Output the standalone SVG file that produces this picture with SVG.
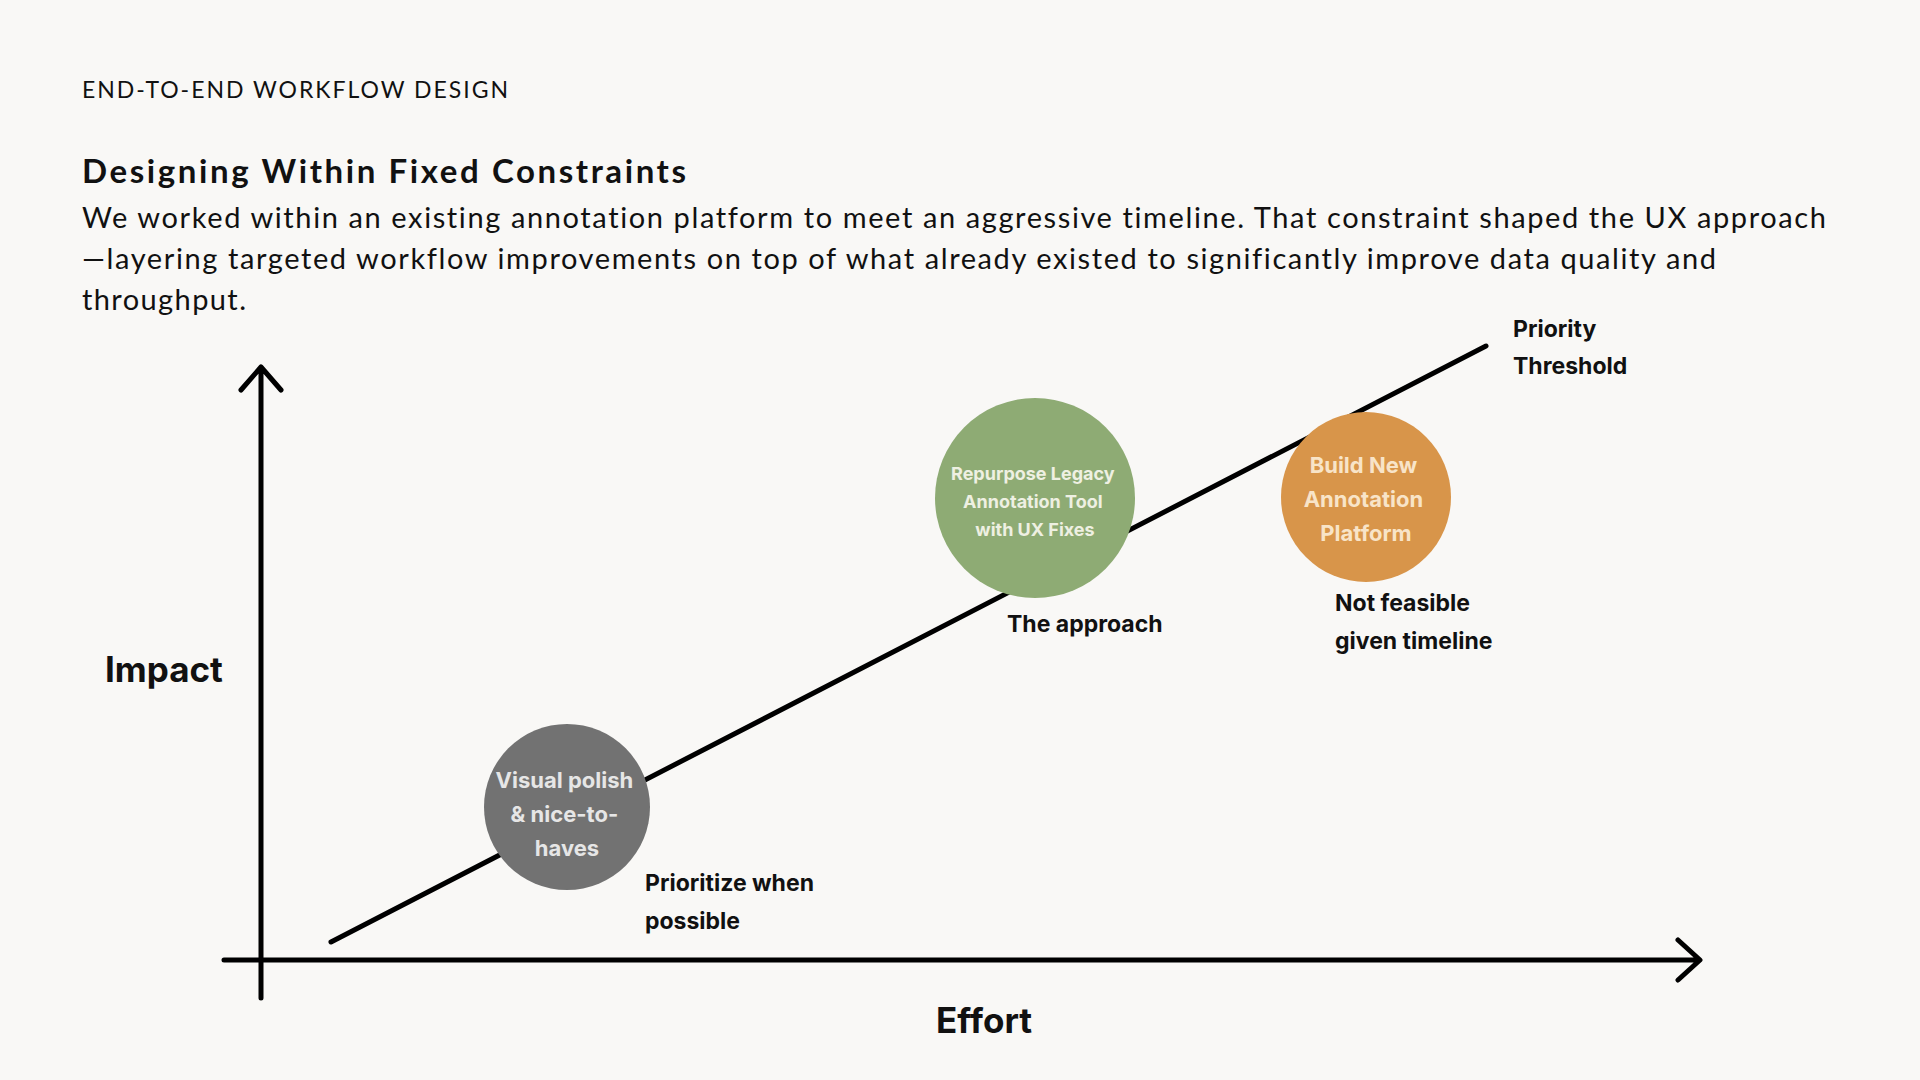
<svg xmlns="http://www.w3.org/2000/svg" width="1920" height="1080" viewBox="0 0 1920 1080">
  <style>
    .hdr { font-family: Lato, "Open Sans", sans-serif; font-size: 23px; fill: #111; font-variant-ligatures: none; }
    .title { font-family: Lato, "Open Sans", sans-serif; font-size: 33px; font-weight: 700; fill: #111; font-variant-ligatures: none; }
    .body { font-family: Lato, "Open Sans", sans-serif; font-size: 29px; fill: #111; font-variant-ligatures: none; }
    .lbl { font-family: Inter, "Noto Sans", sans-serif; font-size: 23px; font-weight: 700; fill: #111; }
    .axis { font-family: Inter, "Noto Sans", sans-serif; font-size: 35px; font-weight: 700; fill: #111; }
    .ctext { font-family: Inter, "Noto Sans", sans-serif; font-weight: 700; text-anchor: middle; }
    .stroke { stroke: #000; stroke-width: 5; stroke-linecap: round; stroke-linejoin: round; fill: none; }
  </style>
  <rect width="1920" height="1080" fill="#f9f8f6"/>

  <g id="header">
    <text class="hdr" x="82" y="98" textLength="426" lengthAdjust="spacing">END-TO-END WORKFLOW DESIGN</text>
    <text class="title" x="82" y="183" textLength="604" lengthAdjust="spacing">Designing Within Fixed Constraints</text>
    <text class="body" x="82" y="228" textLength="1744" lengthAdjust="spacing">We worked within an existing annotation platform to meet an aggressive timeline. That constraint shaped the UX approach</text>
    <text class="body" x="82" y="269" textLength="1634" lengthAdjust="spacing">—layering targeted workflow improvements on top of what already existed to significantly improve data quality and</text>
    <text class="body" x="82" y="310" textLength="164" lengthAdjust="spacing">throughput.</text>
  </g>

  <g id="connectors">
    <path id="y-axis" class="stroke" d="M261 998 V367 M241 390 L261 367 L281 390"/>
    <path id="x-axis" class="stroke" d="M224 960 H1699 M1678 940 L1700 960 L1678 980"/>
    <path id="threshold-line" class="stroke" d="M331 942 L1486 346"/>
  </g>

  <g id="axis-labels">
    <text class="axis" x="105" y="682">Impact</text>
    <text class="axis" x="936" y="1033">Effort</text>
  </g>

  <g id="node-polish">
    <circle cx="567" cy="807" r="83" fill="#727272"/>
    <text class="ctext" font-size="22" fill="#e6e6e6">
      <tspan x="567" y="788">Visual polish</tspan>
      <tspan x="567" y="822">&amp; nice-to-</tspan>
      <tspan x="567" y="856">haves</tspan>
    </text>
    <text class="lbl">
      <tspan x="645" y="891">Prioritize when</tspan>
      <tspan x="645" y="929">possible</tspan>
    </text>
  </g>

  <g id="node-repurpose">
    <circle cx="1035" cy="498" r="100" fill="#8eab74"/>
    <text class="ctext" font-size="18" fill="#eef0e2">
      <tspan x="1035" y="480">Repurpose Legacy</tspan>
      <tspan x="1035" y="508">Annotation Tool</tspan>
      <tspan x="1035" y="536">with UX Fixes</tspan>
    </text>
    <text class="lbl" x="1007" y="632">The approach</text>
  </g>

  <g id="node-build">
    <circle cx="1366" cy="497" r="85" fill="#d8954a"/>
    <text class="ctext" font-size="22" fill="#f8e4c8">
      <tspan x="1366" y="473">Build New</tspan>
      <tspan x="1366" y="507">Annotation</tspan>
      <tspan x="1366" y="541">Platform</tspan>
    </text>
    <text class="lbl">
      <tspan x="1335" y="611">Not feasible</tspan>
      <tspan x="1335" y="649">given timeline</tspan>
    </text>
  </g>

  <g id="threshold-label">
    <text class="lbl">
      <tspan x="1513" y="337">Priority</tspan>
      <tspan x="1513" y="374">Threshold</tspan>
    </text>
  </g>
</svg>
